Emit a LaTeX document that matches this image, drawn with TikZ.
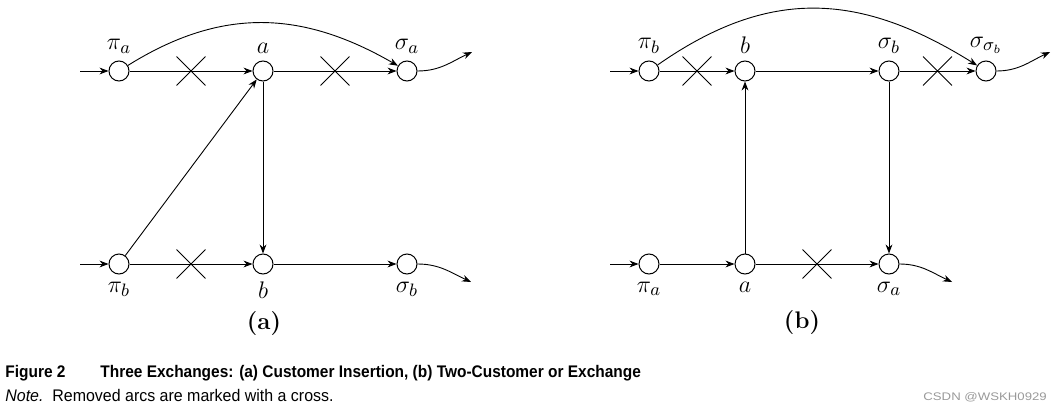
\documentclass[tikz,border=0pt]{standalone}
\usepackage{fontspec}
\newfontfamily\capfont[FakeStretch=0.92]{Liberation Sans}
\newfontfamily\notefont[FakeStretch=0.95]{Liberation Sans}
\newfontfamily\markfont[FakeStretch=1.2]{Liberation Sans}
\usetikzlibrary{arrows.meta,shapes.misc}
\tikzset{
  % --- customers ---------------------------------------------------------------
  cust/.style={circle,draw,line width=0.5pt,minimum size=10pt,inner sep=0pt},
  clab/.style={font=\fontsize{12.5}{14}\selectfont,inner sep=3.5pt},
  % --- arcs --------------------------------------------------------------------
  link/.style={line width=0.45pt,-{Stealth[length=4.5pt,width=3.4pt]}},
  removed/.style={cross out,draw,line width=0.45pt,minimum size=14pt,
                  inner sep=0pt},
  % --- captions ----------------------------------------------------------------
  tag/.style={font=\large\bfseries},
  captxt/.style={anchor=base west,inner sep=0pt,
                 font=\capfont\fontsize{8.4}{10}\selectfont},
}

\begin{document}
\begin{tikzpicture}[x=0.5pt, y=-0.5pt]
  \useasboundingbox (0,0) rectangle (1060,412);
  \def\ytop{71}        % upper route
  \def\ybot{264}       % lower route

  % (a) customer insertion
  \foreach \n/\x/\lab in {aPa/119/\pi_a, aA/263/a, aSa/407/\sigma_a}
    \node[cust,label={[clab]above:$\lab$}] (\n) at (\x,\ytop) {};
  \foreach \n/\x/\lab in {aPb/119/\pi_b, aB/263/b, aSb/407/\sigma_b}
    \node[cust,label={[clab]below:$\lab$}] (\n) at (\x,\ybot) {};

  % (b) two-customer exchange
  \foreach \n/\x/\lab in {bPb/649/\pi_b, bB/745/b, bSb/889/\sigma_b,
                          bSsb/986/{\sigma_{\sigma_b}}}
    \node[cust,label={[clab]above:$\lab$}] (\n) at (\x,\ytop) {};
  \foreach \n/\x/\lab in {bPa/649/\pi_a, bA/745/a, bSa/889/\sigma_a}
    \node[cust,label={[clab]below:$\lab$}] (\n) at (\x,\ybot) {};

  % route ends
  \coordinate (aIn1)  at (80,\ytop);
  \coordinate (aIn2)  at (80,\ybot);
  \coordinate (aOut1) at (472,52);
  \coordinate (aOut2) at (471,282);
  \coordinate (bIn1)  at (610,\ytop);
  \coordinate (bIn2)  at (610,\ybot);
  \coordinate (bOut1) at (1050,52);
  \coordinate (bOut2) at (952,282);

  \foreach \s/\t in {aIn1/aPa, aIn2/aPb, bIn1/bPb, bIn2/bPa}
    \draw[link] (\s) -- (\t);
  \draw[link] (aSa)  to[out=0,in=205] (aOut1);
  \draw[link] (aSb)  to[out=0,in=155] (aOut2);
  \draw[link] (bSsb) to[out=0,in=205] (bOut1);
  \draw[link] (bSa)  to[out=0,in=155] (bOut2);

  % kept and added arcs
  \foreach \s/\t in {aPb/aA, aA/aB, aB/aSb, bB/bSb, bA/bB, bSb/bSa, bPa/bA}
    \draw[link] (\s) -- (\t);
  \draw[link] (aPa) to[out=32,in=150,looseness=1.05] (aSa);
  \draw[link] (bPb) to[out=35,in=148,looseness=1.1] (bSsb);

  % removed arcs, crossed out
  \foreach \s/\t in {aPa/aA, aA/aSa, aPb/aB, bPb/bB, bSb/bSsb, bA/bSa}
    \draw[link] (\s) -- node[removed] (x\s\t) {} (\t);

  \node[tag] (tagA) at (264,324) {(a)};
  \node[tag] (tagB) at (802,323) {(b)};

  % caption
  \node[captxt] (fig)  at (5,377)   {\bfseries Figure 2};
  \node[captxt] (ttl)  at (100,377)
       {\bfseries Three Exchanges: (a) Customer Insertion, (b) Two-Customer or Exchange};
  \node[captxt,font=\notefont\fontsize{8.4}{10}\selectfont] (note) at (5,401)
       {\itshape Note.\upshape\ \ Removed arcs are marked with a cross.};
  \node[anchor=base west,inner sep=0pt,text=black!40,
        font=\markfont\fontsize{5.5}{6}\selectfont] (mark) at (923,400)
       {CSDN @WSKH0929};
\end{tikzpicture}
\end{document}
